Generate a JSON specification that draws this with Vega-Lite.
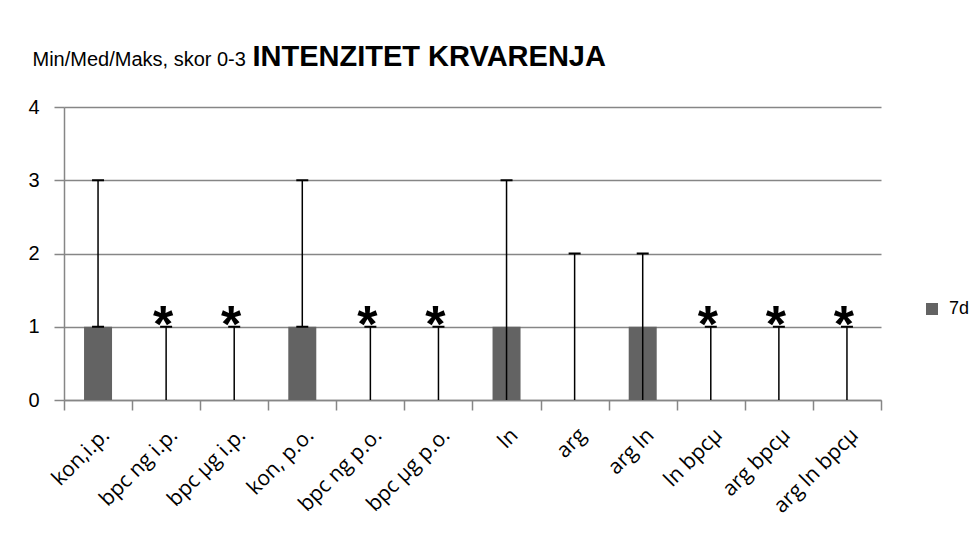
{
  "$schema": "https://vega.github.io/schema/vega-lite/v6.json",
  "width": 817,
  "height": 293,
  "autosize": {"type": "none"},
  "padding": {"left": 64, "top": 107, "right": 98, "bottom": 137},
  "background": "white",
  "config": {"view": {"stroke": null}},
  "data": {
    "values": [
      {"cat": "kon,i.p.", "med": 1, "min": 1, "max": 3, "sig": "", "series": "7d"},
      {"cat": "bpc ng i.p.", "med": 0, "min": 0, "max": 1, "sig": "*", "series": "7d"},
      {"cat": "bpc µg i.p.", "med": 0, "min": 0, "max": 1, "sig": "*", "series": "7d"},
      {"cat": "kon, p.o.", "med": 1, "min": 1, "max": 3, "sig": "", "series": "7d"},
      {"cat": "bpc ng p.o.", "med": 0, "min": 0, "max": 1, "sig": "*", "series": "7d"},
      {"cat": "bpc µg p.o.", "med": 0, "min": 0, "max": 1, "sig": "*", "series": "7d"},
      {"cat": "ln", "med": 1, "min": 0, "max": 3, "sig": "", "series": "7d"},
      {"cat": "arg", "med": 0, "min": 0, "max": 2, "sig": "", "series": "7d"},
      {"cat": "arg ln", "med": 1, "min": 0, "max": 2, "sig": "", "series": "7d"},
      {"cat": "ln bpcµ", "med": 0, "min": 0, "max": 1, "sig": "*", "series": "7d"},
      {"cat": "arg bpcµ", "med": 0, "min": 0, "max": 1, "sig": "*", "series": "7d"},
      {"cat": "arg ln bpcµ", "med": 0, "min": 0, "max": 1, "sig": "*", "series": "7d"}
    ]
  },
  "encoding": {
    "x": {
      "field": "cat",
      "type": "nominal",
      "sort": null,
      "scale": {"paddingInner": 0, "paddingOuter": 0},
      "axis": {
        "tickBand": "extent",
        "tickSize": 10,
        "tickColor": "#868686",
        "tickWidth": 1.5,
        "domainColor": "#868686",
        "domainWidth": 1.5,
        "grid": false,
        "labelAngle": -45,
        "labelFont": "Open Sans",
        "labelFontSize": 21,
        "labelColor": "black",
        "labelPadding": 14,
        "title": "INTENZITET KRVARENJA",
        "titleX": 188,
        "titleY": -335,
        "titleAlign": "left",
        "titleBaseline": "alphabetic",
        "titleFont": "Liberation Sans",
        "titleFontSize": 29,
        "titleFontWeight": "bold",
        "titleColor": "black"
      }
    }
  },
  "layer": [
    {
      "mark": {"type": "bar", "width": 28},
      "encoding": {
        "y": {
          "field": "med",
          "type": "quantitative",
          "scale": {"domain": [0, 4]},
          "axis": {
            "values": [0, 1, 2, 3, 4],
            "format": "d",
            "grid": true,
            "gridColor": "#868686",
            "gridWidth": 1.5,
            "tickSize": 10,
            "tickColor": "#868686",
            "tickWidth": 1.5,
            "domainColor": "#868686",
            "domainWidth": 1.5,
            "labelFont": "Liberation Sans",
            "labelFontSize": 20,
            "labelColor": "black",
            "labelPadding": 15,
            "title": "Min/Med/Maks, skor 0-3",
            "titleAngle": 0,
            "titleX": -32,
            "titleY": -42,
            "titleAlign": "left",
            "titleBaseline": "alphabetic",
            "titleFont": "Liberation Sans",
            "titleFontSize": 20,
            "titleFontWeight": "normal",
            "titleColor": "black"
          }
        },
        "color": {
          "field": "series",
          "type": "nominal",
          "scale": {"range": ["#636363"]},
          "legend": {
            "orient": "none",
            "legendX": 859,
            "legendY": 193,
            "title": null,
            "padding": 0,
            "symbolType": "square",
            "symbolSize": 144,
            "symbolStrokeWidth": 0,
            "symbolOpacity": 1,
            "labelFont": "Liberation Sans",
            "labelFontSize": 18,
            "labelColor": "black",
            "labelOffset": 8
          }
        }
      }
    },
    {
      "mark": {"type": "rule", "color": "black", "strokeWidth": 1.5},
      "encoding": {
        "y": {"field": "min", "type": "quantitative"},
        "y2": {"field": "max"}
      }
    },
    {
      "mark": {"type": "tick", "color": "black", "thickness": 2, "size": 12, "opacity": 1},
      "encoding": {"y": {"field": "max", "type": "quantitative"}}
    },
    {
      "transform": [{"filter": "datum.min > 0"}],
      "mark": {"type": "tick", "color": "black", "thickness": 2, "size": 12, "opacity": 1},
      "encoding": {"y": {"field": "min", "type": "quantitative"}}
    },
    {
      "transform": [{"filter": "datum.sig != ''"}],
      "mark": {"type": "text", "font": "Liberation Sans", "fontSize": 52, "fontWeight": "bold", "color": "black", "dx": -3, "dy": 15, "baseline": "alphabetic", "align": "center"},
      "encoding": {
        "y": {"field": "max", "type": "quantitative"},
        "text": {"field": "sig"}
      }
    }
  ]
}
